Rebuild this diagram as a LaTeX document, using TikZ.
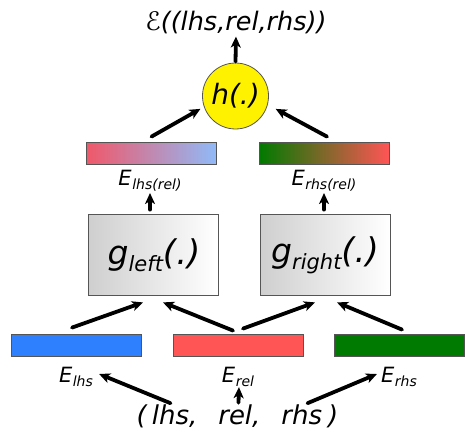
\documentclass[tikz,border=0pt]{standalone}
\usepackage{fontspec}
\setmainfont{DejaVu Sans}
\usetikzlibrary{arrows.meta,calc}

\definecolor{barblue}{HTML}{2F80FF}
\definecolor{barred}{HTML}{FF5555}
\definecolor{bargreen}{HTML}{007A00}
\definecolor{mixred}{HTML}{F0586A}
\definecolor{mixblue}{HTML}{90BAF8}
\definecolor{edgegray}{HTML}{555555}

% E with a lowered index
\newcommand{\lbl}[1]{{\fontsize{21}{21}\selectfont E}\kern0.5pt\raisebox{-4.5pt}{\fontsize{14}{14}\selectfont #1}}
% g with a lowered index followed by (.)
\newcommand{\gfun}[1]{{\fontsize{33}{33}\selectfont g}\raisebox{-7pt}{\fontsize{21}{21}\selectfont #1}{\fontsize{34}{34}\selectfont(.)}}

\tikzset{
  arr/.style={line width=3.8pt, line cap=round, -{Stealth[length=11pt,width=10pt,inset=3pt]}},
  bar/.style={draw=edgegray, line width=0.8pt, minimum width=130pt, minimum height=22pt, inner sep=0pt},
  gbox/.style={draw=edgegray, line width=0.8pt, minimum width=130pt, minimum height=81pt, inner sep=0pt,
    left color=gray!38, right color=white},
  txt/.style={font=\itshape, inner sep=0pt},
}

\begin{document}
\begin{tikzpicture}[x=1pt,y=-1pt]
\useasboundingbox (0,0) rectangle (466,436);

% top: score and combination node
\node[txt, font=\fontsize{25.5}{25.5}\selectfont\itshape] (score) at (236,22) {ℰ((lhs,rel,rhs))};
\node[circle, draw=edgegray, line width=0.8pt, fill=yellow, minimum size=66pt, inner sep=0pt,
      font=\fontsize{28}{28}\selectfont\itshape] (h) at (235.5,96) {h(.)};

% combined embeddings
\node[bar, left color=mixred, right color=mixblue] (lbar) at (151.5,153) {};
\node[bar, left color=bargreen, right color=barred] (rbar) at (324,153) {};
\node[txt] (lrel) at (150,181) {\lbl{lhs(rel)}};
\node[txt] (rrel) at (324,181) {\lbl{rhs(rel)}};

% combination functions
\node[gbox] (gl) at (153,254.5) {};
\node[gbox] (gr) at (325,254.5) {};
\node[txt] (gltext) at (154,255) {\gfun{left}};
\node[txt] (grtext) at (325,255) {\gfun{right}};

% input embeddings
\node[bar, fill=barblue] (blue) at (76.5,345) {};
\node[bar, fill=barred] (red) at (238,345) {};
\node[bar, fill=bargreen] (green) at (399,345) {};
\node[txt] (elhs) at (76,377) {\lbl{lhs}};
\node[txt] (erel) at (238,377) {\lbl{rel}};
\node[txt] (erhs) at (399,377) {\lbl{rhs}};

% input triple
\node[txt, font=\fontsize{26}{26}\selectfont\itshape] (trip) at (237.5,416)
  {(\hspace{5pt}lhs,\hspace{21pt}rel,\hspace{21pt}rhs\hspace{6pt})};

% connectors: triple -> input embeddings
\draw[arr] ([xshift=-67pt,yshift=1pt]trip.north) -- ([xshift=6pt,yshift=3pt]elhs.east);
\draw[arr] ([xshift=1pt,yshift=1.5pt]trip.north) -- ($(erel.south)+(1,0)$);
\draw[arr] ([xshift=70pt,yshift=1pt]trip.north) -- ([xshift=-4pt,yshift=3pt]erhs.west);

% input embeddings -> combination functions
\draw[arr] ([xshift=-4.5pt,yshift=6pt]blue.north) -- ([xshift=-10pt,yshift=-7pt]gl.south);
\draw[arr] ([xshift=-5pt,yshift=3pt]red.north) -- ([xshift=10pt,yshift=-7pt]gl.south);
\draw[arr] ([xshift=5pt,yshift=5pt]red.north) -- ([xshift=-10pt,yshift=-7pt]gr.south);
\draw[arr] ([xshift=3pt,yshift=4pt]green.north) -- ([xshift=12pt,yshift=-7pt]gr.south);

% combination functions -> combined embeddings
\draw[arr] ([xshift=-3pt,yshift=4pt]gl.north) -- ($(gl.north |- lrel.south)+(-3,1)$);
\draw[arr] ([xshift=-1pt,yshift=4pt]gr.north) -- ($(gr.north |- rrel.south)+(-1,1)$);

% combined embeddings -> h -> score
\draw[arr, shorten >=4pt] ([yshift=5pt]lbar.north) -- (h.199);
\draw[arr, shorten >=9pt] ([xshift=3pt,yshift=5pt]rbar.north) -- (h.-15);
\draw[arr, shorten <=1pt, shorten >=3pt] (h.north) -- (score.south);
\end{tikzpicture}
\end{document}
